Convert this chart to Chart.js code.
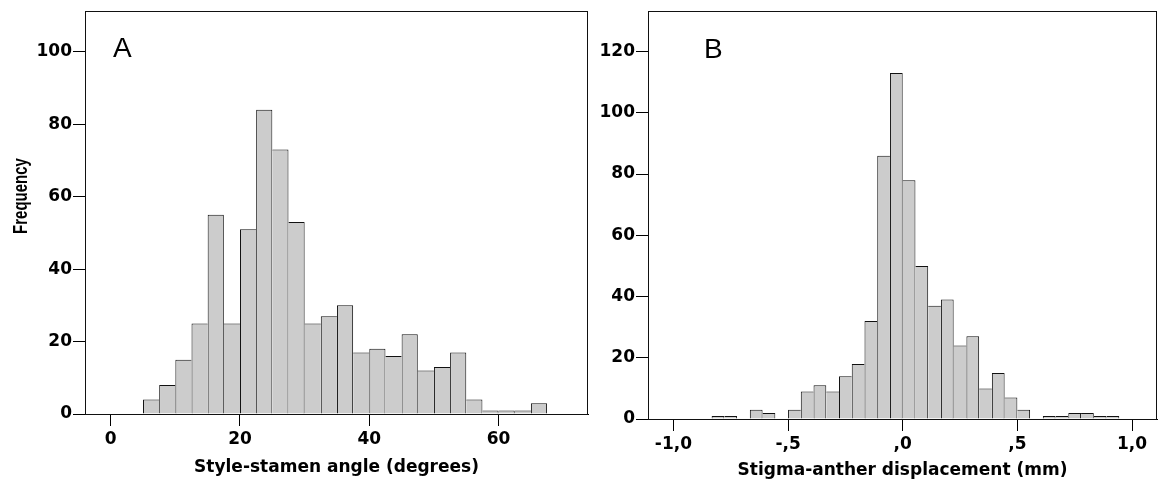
<!DOCTYPE html>
<html>
<head>
<meta charset="utf-8">
<script src="https://cdn.jsdelivr.net/npm/chart.js@4.4.1/dist/chart.umd.min.js"></script>
<style>
  body { margin: 0; background: #fff; overflow: hidden; }
  #wrap { position: relative; width: 1160px; height: 491px; }
  canvas { position: absolute; top: 0; }
  #panel-a { left: 0; }
  #panel-b { left: 600px; }
</style>
</head>
<body>
<div id="wrap">
  <canvas id="panel-a" width="600" height="491"></canvas>
  <canvas id="panel-b" width="560" height="491"></canvas>
</div>
<script>
// panel A: style-stamen angle, bins of 2.5 degrees from 5
const angleBinStart = 5
const angleBinWidth = 2.5
const angleCounts = [4, 8, 15, 25, 55, 25, 51, 84, 73, 53, 25, 27, 30, 17, 18, 16, 22, 12, 13, 17, 4, 1, 1, 1, 3]
const angleTicksX = [0, 20, 40, 60]
const angleTicksY = [0, 20, 40, 60, 80, 100]

// panel B: stigma-anther displacement, bins of 1/18 mm from -15/18
const displBinStart = -15 / 18
const displBinWidth = 1 / 18
const displCounts = [1, 1, 0, 3, 2, 0, 3, 9, 11, 9, 14, 18, 32, 86, 113, 78, 50, 37, 39, 24, 27, 10, 15, 7, 3, 0, 1, 1, 2, 2, 1, 1]
const displTicksX = [-1, -0.5, 0, 0.5, 1]
const displTickLabels = ['-1,0', '-,5', ',0', ',5', '1,0']
const displTicksY = [0, 20, 40, 60, 80, 100, 120]

const tickFont = {family: "'DejaVu Sans', sans-serif", size: 17, weight: 'bold'}

const toPoints = (start, width, counts) =>
  counts.map((c, i) => ({x: start + (i + 0.5) * width, y: c}))

// only the taller of two neighbours draws the shared edge, so lines stay 1px
const edgeWidths = (counts) => (ctx) => {
  const i = ctx.dataIndex
  const cur = counts[i]
  const prev = counts[i - 1] || 0
  const next = counts[i + 1] || 0
  return {top: 1, bottom: 0, left: prev < cur ? 1 : 0, right: next <= cur ? 1 : 0}
}

const panelPlugin = {
  id: 'panelText',
  afterDraw(chart, args, opts) {
    const {ctx, chartArea: a} = chart
    ctx.save()
    ctx.strokeStyle = '#111'
    ctx.lineWidth = 1
    ctx.strokeRect(Math.round(a.left) + 0.5, Math.round(a.top) + 0.5,
      Math.round(a.right - a.left) - 1, Math.round(a.bottom - a.top))
    ctx.fillStyle = '#000'
    ctx.font = opts.letterFont
    ctx.textBaseline = 'alphabetic'
    ctx.fillText(opts.letter, a.left + opts.letterDx, a.top + opts.letterDy)
    if (opts.yTitle) {
      // the source figure is stretched sideways, so the rotated title is thicker
      ctx.translate(opts.yTitleX, opts.yTitleY)
      ctx.rotate(-Math.PI / 2)
      ctx.scale(1, 1.3)
      ctx.textAlign = 'center'
      ctx.textBaseline = 'middle'
      ctx.font = "bold 15px 'Liberation Sans', Arial, sans-serif"
      ctx.fillText(opts.yTitle, 0, 0)
    }
    ctx.restore()
  }
}

const renderHistogram = (canvasId, cfg) => {
  const ctx = document.querySelector(canvasId).getContext('2d')
  new Chart(ctx, {
    type: 'bar',
    data: {
      datasets: [{
        data: toPoints(cfg.binStart, cfg.binWidth, cfg.counts),
        backgroundColor: '#cccccc',
        borderColor: '#111',
        borderWidth: edgeWidths(cfg.counts),
        borderSkipped: false,
        inflateAmount: 0,
        barPercentage: 1,
        categoryPercentage: 1
      }]
    },
    options: {
      responsive: false,
      animation: false,
      layout: {padding: {top: 11, right: cfg.padRight, left: 0, bottom: 0}},
      plugins: {
        legend: {display: false},
        tooltip: {enabled: false},
        panelText: {
          letter: cfg.letter,
          letterFont: cfg.letterFont,
          letterDx: cfg.letterDx,
          letterDy: cfg.letterDy,
          yTitle: cfg.yTitle,
          yTitleX: 22,
          yTitleY: 196
        }
      },
      scales: {
        x: {
          type: 'linear',
          min: cfg.xMin,
          max: cfg.xMax,
          offset: false,
          grid: {offset: false, drawOnChartArea: false, tickLength: 12, color: '#000', tickColor: '#000'},
          border: {color: '#000'},
          afterBuildTicks: (scale) => { scale.ticks = cfg.ticksX.map(v => ({value: v})) },
          afterFit: (scale) => { scale.height = cfg.xHeight },
          ticks: {
            padding: 3,
            color: '#000',
            font: tickFont,
            maxRotation: 0,
            autoSkip: false,
            callback: (value, i) => cfg.tickLabelsX ? cfg.tickLabelsX[i] : value
          },
          title: {
            display: true,
            text: cfg.xTitle,
            color: '#000',
            font: tickFont,
            padding: {top: 0, bottom: cfg.xTitlePad}
          }
        },
        y: {
          min: 0,
          max: cfg.yMax,
          grid: {drawOnChartArea: false, tickLength: 12, color: '#000', tickColor: '#000'},
          border: {color: '#000'},
          afterBuildTicks: (scale) => { scale.ticks = cfg.ticksY.map(v => ({value: v})) },
          afterFit: (scale) => { scale.width = cfg.yWidth },
          ticks: {padding: 1, color: '#000', font: tickFont, autoSkip: false}
        }
      }
    },
    plugins: [panelPlugin]
  })
}

renderHistogram('#panel-a', {
  binStart: angleBinStart,
  binWidth: angleBinWidth,
  counts: angleCounts,
  ticksX: angleTicksX,
  ticksY: angleTicksY,
  xMin: -3.975,
  xMax: 73.83,
  yMax: 111.2,
  yWidth: 85,
  xHeight: 77,
  padRight: 12,
  xTitle: 'Style-stamen angle (degrees)',
  xTitlePad: 13,
  yTitle: 'Frequency',
  letter: 'A',
  letterFont: "28px 'Liberation Sans', Arial, sans-serif",
  letterDx: 28,
  letterDy: 46
})

renderHistogram('#panel-b', {
  binStart: displBinStart,
  binWidth: displBinWidth,
  counts: displCounts,
  ticksX: displTicksX,
  tickLabelsX: displTickLabels,
  ticksY: displTicksY,
  xMin: -1.1108,
  xMax: 1.109,
  yMax: 133.2,
  yWidth: 48,
  xHeight: 72,
  padRight: 3,
  xTitle: 'Stigma-anther displacement (mm)',
  xTitlePad: 10,
  yTitle: null,
  letter: 'B',
  letterFont: "28px 'Liberation Sans', Arial, sans-serif",
  letterDx: 56,
  letterDy: 47
})
</script>
</body>
</html>
